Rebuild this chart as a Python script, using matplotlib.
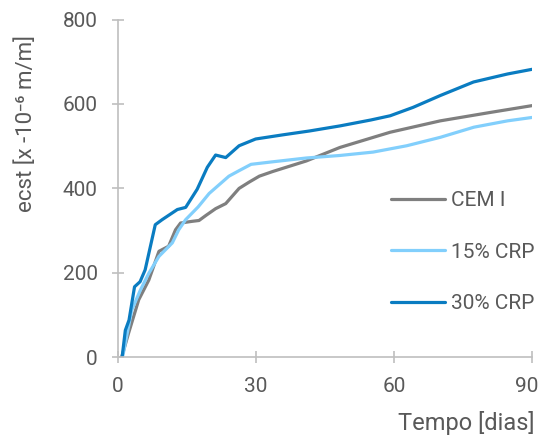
import matplotlib
matplotlib.use('Agg')
import matplotlib.pyplot as plt
import matplotlib.transforms as mtransforms

plt.rcParams['font.family'] = ['Roboto', 'DejaVu Sans']

# dias / ecst [x 10^-6 m/m]
dias_cem = [0.9, 2.4, 4.6, 6.8, 9.0, 11.1, 12.6, 13.7, 16.2, 17.7, 19.2, 21.3, 23.5,
            26.4, 28.6, 30.8, 33.7, 41.0, 48.3, 59.2, 70.1, 81.0, 90.0]
cem = [0, 57, 136, 183, 251, 263, 302, 318, 322, 324, 336, 352, 364,
       400, 415, 429, 440, 465, 497, 533, 560, 580, 596]

dias_15 = [1.1, 3.1, 5.0, 6.8, 9.0, 11.9, 13.3, 14.8, 17.5, 19.9, 24.2, 26.4, 29.0,
           33.7, 41.0, 48.3, 55.5, 62.8, 70.1, 77.4, 84.7, 90.0]
crp15 = [0, 112, 160, 199, 239, 271, 302, 326, 356, 388, 429, 442, 457,
         463, 472, 478, 486, 501, 521, 545, 560, 568]

dias_30 = [1.0, 1.7, 2.5, 3.7, 4.9, 6.0, 8.2, 9.7, 13.0, 14.8, 17.3, 19.5, 21.3,
           23.5, 26.4, 30.0, 36.0, 41.7, 48.3, 55.0, 59.2, 64.2, 70.1, 77.3, 84.7, 90.0]
crp30 = [0, 64, 88, 167, 179, 207, 314, 326, 350, 355, 398, 450, 479,
         473, 501, 517, 527, 536, 548, 562, 572, 592, 620, 652, 671, 682]

series = [
    ('CEM I', dias_cem, cem, '#7f7f7f'),
    ('15% CRP', dias_15, crp15, '#82cffc'),
    ('30% CRP', dias_30, crp30, '#0a7cc1'),
]

txt = '#595959'
axc = '#bfbfbf'

fig = plt.figure(figsize=(5.42, 4.38), dpi=100)
ax = fig.add_axes([117.5 / 542, 1 - 357.3 / 438, 414.5 / 542, 337.8 / 438])

for name, x, y, c in series:
    ax.plot(x, y, color=c, lw=2.3, label=name, solid_joinstyle='round', solid_capstyle='round')

ax.set_xlim(0, 90)
ax.set_ylim(0, 800)
ax.set_xticks([0, 30, 60, 90])
ax.set_yticks([0, 200, 400, 600, 800])

for s in ['top', 'right']:
    ax.spines[s].set_visible(False)
for s in ['left', 'bottom']:
    ax.spines[s].set_color(axc)
    ax.spines[s].set_linewidth(1.2)
    ax.spines[s].set_clip_on(False)

ax.tick_params(axis='both', direction='inout', length=8.5, width=1.2, color=axc,
               labelcolor=txt, labelsize=15, pad=10)

# last x label sits a bit inward so it stays inside the picture
shift = mtransforms.ScaledTranslation(-5 / 100, 0, fig.dpi_scale_trans)
last = ax.get_xticklabels()[-1]
last.set_transform(last.get_transform() + shift)

fig.text(26 / 542, 1 - 124 / 438, 'ecst [x -10⁻⁶ m/m]', rotation=90, ha='center',
         va='center', color=txt, fontsize=16)
fig.text(535 / 542, 1 - 423 / 438, 'Tempo [dias]', ha='right', va='center',
         color=txt, fontsize=17)

leg = ax.legend(loc='upper left', bbox_to_anchor=(381 / 542, 1 - 181 / 438),
                bbox_transform=fig.transFigure, frameon=False, fontsize=15,
                handlelength=2.55, handletextpad=0.3, labelspacing=1.55, borderpad=0)
for t in leg.get_texts():
    t.set_color(txt)

fig.savefig('out.png', dpi=100)
